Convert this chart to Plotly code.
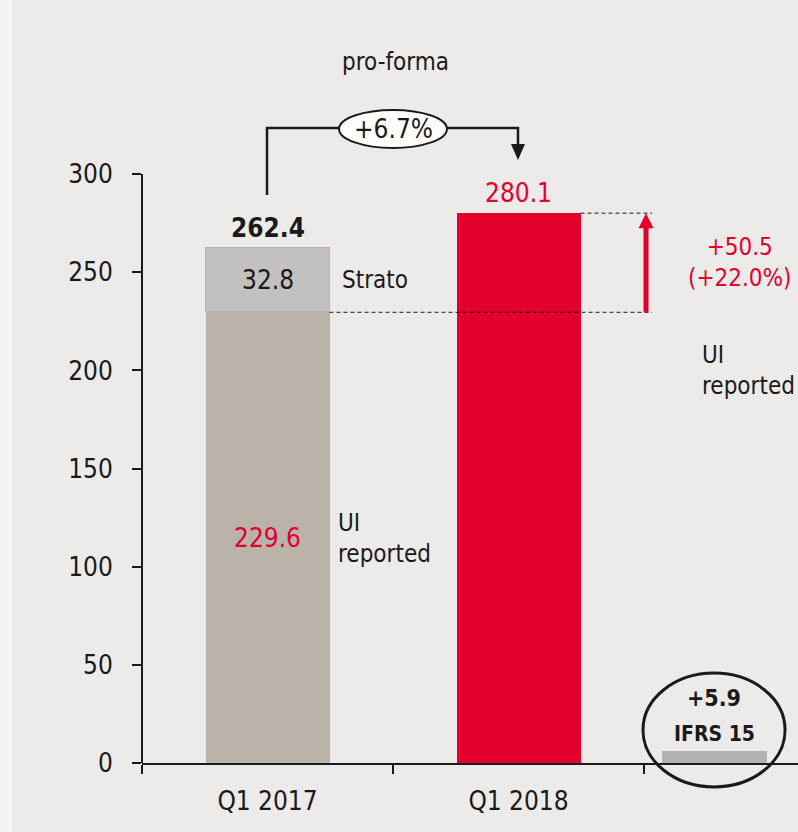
import plotly.graph_objects as go

# ---------------- data ----------------
categories = ["Q1 2017", "Q1 2018"]
cat_pos = [0.5, 1.5]
ui_reported_2017 = 229.6
strato_2017 = 32.8
total_2017 = 262.4
ui_2018 = 280.1
ifrs15 = 5.9
delta_abs = 50.5
delta_pct = 22.0
proforma_growth = 6.7
y_ticks = [0, 50, 100, 150, 200, 250, 300]
ifrs_pos = 2.28

# ---------------- style ----------------
FONT = "DejaVu Sans Condensed, Liberation Sans Narrow, Arial Narrow, sans-serif"
TXT = "#1a1a1a"
RED = "#E3002D"
TAUPE = "#BBB3AA"
LGRAY = "#C2C1C0"
IGRAY = "#B3B3B3"
PANEL = "#ECEBE9"
BORDER = "#F5F4F4"

W, H = 798, 832
ML, MB = 142, 69
XMAX = (W - ML) / 251.0
YMAX = (H - MB) / 1.963
BARW = 0.494


def px(x):
    return x / XMAX


def py(y):
    return y / YMAX


fig = go.Figure()

fig.add_trace(go.Bar(x=[cat_pos[0]], y=[ui_reported_2017], width=BARW,
                     marker=dict(color=TAUPE, line=dict(width=0)), hoverinfo="skip"))
fig.add_trace(go.Bar(x=[cat_pos[0]], y=[strato_2017], width=BARW,
                     marker=dict(color=LGRAY, line=dict(color=TAUPE, width=1.5)), hoverinfo="skip"))
fig.add_trace(go.Bar(x=[cat_pos[1]], y=[ui_2018], width=BARW,
                     marker=dict(color=RED, line=dict(width=0)), hoverinfo="skip"))
fig.add_trace(go.Bar(x=[ifrs_pos], y=[ifrs15], width=0.42,
                     marker=dict(color=IGRAY, line=dict(width=0)), hoverinfo="skip"))

shapes = []
# panel
shapes.append(dict(type="rect", xref="paper", yref="paper",
                   x0=-(ML - 12) / (W - ML), x1=1.01, y0=-MB / (H - MB) - 0.01, y1=(H - 6) / (H - MB),
                   fillcolor=PANEL, line=dict(width=0), layer="below"))
# y axis line
shapes.append(dict(type="line", xref="paper", yref="paper", x0=0, x1=0,
                   y0=py(0), y1=py(300), line=dict(color=TXT, width=2)))
# dashed reference lines
shapes.append(dict(type="line", xref="paper", yref="paper",
                   x0=px(cat_pos[0] + BARW / 2), x1=px(2.032), y0=py(ui_reported_2017), y1=py(ui_reported_2017),
                   line=dict(color=TXT, width=1, dash="4px,3px")))
shapes.append(dict(type="line", xref="paper", yref="paper",
                   x0=px(cat_pos[1] + BARW / 2), x1=px(2.032), y0=py(ui_2018), y1=py(ui_2018),
                   line=dict(color=TXT, width=1, dash="4px,3px")))
# red arrow
ax_x = 2.008
head = 15 / 1.963
shapes.append(dict(type="line", xref="paper", yref="paper",
                   x0=px(ax_x), x1=px(ax_x), y0=py(ui_reported_2017), y1=py(ui_2018 - head + 1),
                   line=dict(color=RED, width=5)))
hw = 7.5 / 251
shapes.append(dict(type="path", xref="paper", yref="paper",
                   path=f"M {px(ax_x - hw)} {py(ui_2018 - head)} L {px(ax_x + hw)} {py(ui_2018 - head)} L {px(ax_x)} {py(ui_2018)} Z",
                   fillcolor=RED, line=dict(width=0)))
# pro-forma bracket
y_start = total_2017 + 27
y_top = 323.5
y_end = 314.8
bx0 = cat_pos[0] - 0.002
bx1 = cat_pos[1] - 0.002
shapes.append(dict(type="path", xref="paper", yref="paper",
                   path=f"M {px(bx0)} {py(y_start)} L {px(bx0)} {py(y_top)} L {px(bx1)} {py(y_top)} L {px(bx1)} {py(y_end)}",
                   line=dict(color=TXT, width=2.5)))
bh = 15 / 1.963
bw = 7 / 251
shapes.append(dict(type="path", xref="paper", yref="paper",
                   path=f"M {px(bx1 - bw)} {py(y_end + 0.5)} L {px(bx1 + bw)} {py(y_end + 0.5)} L {px(bx1)} {py(y_end - bh)} Z",
                   fillcolor=TXT, line=dict(width=0)))
# growth ellipse
shapes.append(dict(type="circle", xref="paper", yref="paper",
                   x0=px(0.785), x1=px(1.215), y0=py(313.3), y1=py(332.7),
                   fillcolor="white", line=dict(color=TXT, width=2)))
# IFRS ellipse
shapes.append(dict(type="circle", xref="paper", yref="paper",
                   x0=px(1.996), x1=px(2.562), y0=py(-12.2), y1=py(45.8),
                   line=dict(color=TXT, width=3)))

ann = []


def A(x, y, text, size=24, color=TXT, bold=False, xanchor="center", yanchor="middle", yshift=0, align="center"):
    t = f"<b>{text}</b>" if bold else text
    ann.append(dict(x=x, y=y, xref="x", yref="y", text=t, showarrow=False,
                    xanchor=xanchor, yanchor=yanchor, yshift=yshift, align=align,
                    font=dict(family=FONT, size=size, color=color)))


A(cat_pos[0], total_2017, f"{total_2017:.1f}", size=26, bold=True, yanchor="bottom", yshift=3)
A(cat_pos[0], ui_reported_2017 + strato_2017 / 2, f"{strato_2017:.1f}", size=26)
A(cat_pos[0], ui_reported_2017 / 2, f"{ui_reported_2017:.1f}", size=26, color=RED)
A(cat_pos[1], ui_2018, f"{ui_2018:.1f}", size=26, color=RED, yanchor="bottom", yshift=3)
A(0.789, 246, "Strato", size=24, xanchor="left")
A(0.773, 114.6, "UI<br>reported", size=24, xanchor="left", align="left")
A(2.382, 255, f"+{delta_abs:.1f}<br>(+{delta_pct:.1f}%)", size=24, color=RED)
A(2.223, 199.7, "UI<br>reported", size=24, xanchor="left", align="left")
A(1.01, 357, "pro-forma", size=24)
A(1.0, 323, f"+{proforma_growth:.1f}%", size=26)
A(ifrs_pos, 33.1, f"+{ifrs15:.1f}", size=23, bold=True)
A(ifrs_pos, 14.8, "IFRS 15", size=21, bold=True)

fig.update_layout(
    width=W, height=H,
    margin=dict(l=ML, r=0, t=0, b=MB, pad=0),
    paper_bgcolor=BORDER, plot_bgcolor="rgba(0,0,0,0)",
    barmode="stack", bargap=0, showlegend=False,
    shapes=shapes, annotations=ann,
    font=dict(family=FONT, size=26, color=TXT),
    xaxis=dict(range=[0, XMAX], showgrid=False, zeroline=False,
               showline=True, linecolor=TXT, linewidth=2,
               tickvals=cat_pos, ticktext=categories, ticks="",
               tickfont=dict(family=FONT, size=26, color=TXT),
               ticklabelstandoff=14,
               minor=dict(tickvals=[0, 1, 2], ticks="outside", ticklen=9, tickwidth=2, tickcolor=TXT)),
    yaxis=dict(range=[0, YMAX], showgrid=False, zeroline=False, showline=False,
               tickvals=y_ticks, ticks="outside", ticklen=9, tickwidth=2, tickcolor=TXT,
               tickfont=dict(family=FONT, size=26, color=TXT), ticklabelstandoff=14),
)

fig.write_html("out.html", config={"displayModeBar": False},
               post_script="document.body.style.margin='0';document.body.style.overflow='hidden';")
